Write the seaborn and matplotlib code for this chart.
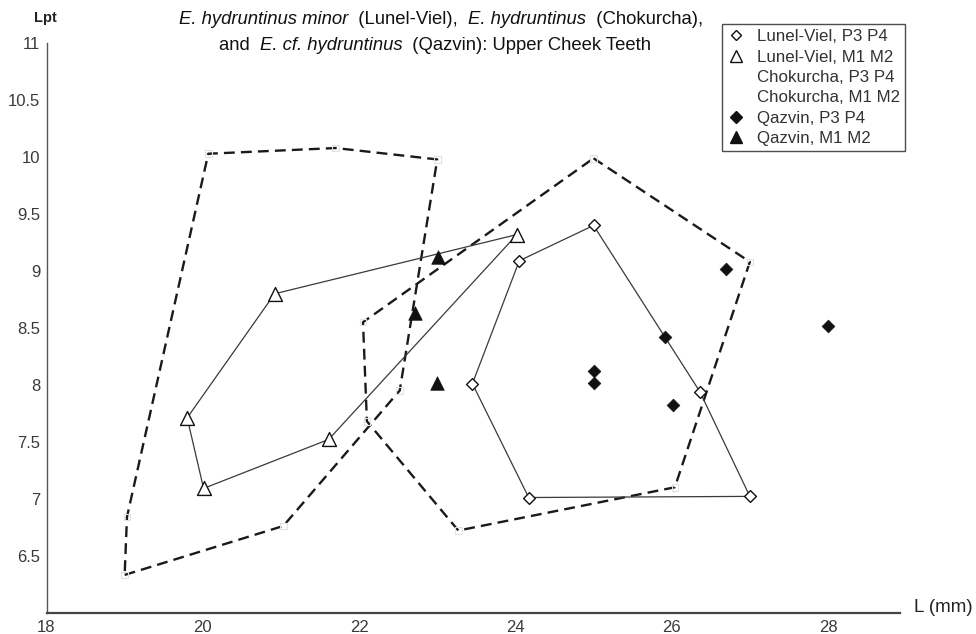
import matplotlib
matplotlib.use("Agg")
import matplotlib.pyplot as plt
from matplotlib.lines import Line2D
import seaborn as sns

# ---------------- data ----------------
lv_p34_L = [23.45, 24.05, 25.0, 26.36, 27.0, 24.17]
lv_p34_Lpt = [8.01, 9.09, 9.40, 7.94, 7.02, 7.01]

lv_m12_L = [19.8, 20.92, 24.02, 21.61, 20.01]
lv_m12_Lpt = [7.71, 8.80, 9.32, 7.52, 7.09]

ch_m12_L = [19.0, 21.03, 22.52, 23.0, 21.7, 20.07, 19.03]
ch_m12_Lpt = [6.33, 6.76, 7.95, 9.98, 10.08, 10.03, 6.84]

ch_p34_L = [25.0, 27.0, 26.04, 23.27, 22.1, 22.05]
ch_p34_Lpt = [9.99, 9.08, 7.10, 6.72, 7.68, 8.55]

qz_p34_L = [26.7, 25.91, 25.01, 25.01, 26.02, 28.0]
qz_p34_Lpt = [9.02, 8.42, 8.12, 8.02, 7.82, 8.52]

qz_m12_L = [23.01, 22.72, 23.0]
qz_m12_Lpt = [9.12, 8.63, 8.02]

legend_labels = ["Lunel-Viel, P3 P4", "Lunel-Viel, M1 M2", "Chokurcha, P3 P4",
                 "Chokurcha, M1 M2", "Qazvin, P3 P4", "Qazvin, M1 M2"]
x_ticks = [18, 20, 22, 24, 26, 28]
y_ticks = [6.5, 7, 7.5, 8, 8.5, 9, 9.5, 10, 10.5, 11]

# ---------------- figure ----------------
sns.set_theme(style="white")
plt.rcParams["font.family"] = ["Liberation Sans", "DejaVu Sans"]

W, H = 976, 634
fig = plt.figure(figsize=(W / 100, H / 100), dpi=100)
ax = fig.add_axes([46.5 / W, 1 - 612.5 / H, (900 - 46.5) / W, (612.5 - 43.3) / H])
ax.set_xlim(18, 18 + (900 - 46.5) / 78.15)
ax.set_ylim(6, 11)


def closed(xs, ys):
    return list(xs) + [xs[0]], list(ys) + [ys[0]]


# Chokurcha hulls (thick dashed)
for xs, ys in [(ch_m12_L, ch_m12_Lpt), (ch_p34_L, ch_p34_Lpt)]:
    cx, cy = closed(xs, ys)
    ax.plot(cx, cy, color="#1a1a1a", lw=1.7, linestyle=(0, (4.6, 2.6)), zorder=2)

# Lunel-Viel hulls (thin solid)
for xs, ys in [(lv_p34_L, lv_p34_Lpt), (lv_m12_L, lv_m12_Lpt)]:
    cx, cy = closed(xs, ys)
    ax.plot(cx, cy, color="#3a3a3a", lw=0.9, zorder=3)

faint = "#e2e2e2"
sns.scatterplot(x=ch_p34_L, y=ch_p34_Lpt, marker="s", s=22, facecolor="none",
                edgecolor=faint, linewidth=0.8, ax=ax, zorder=4)
sns.scatterplot(x=ch_m12_L, y=ch_m12_Lpt, marker="s", s=22, facecolor="none",
                edgecolor=faint, linewidth=0.8, ax=ax, zorder=4)
sns.scatterplot(x=lv_p34_L, y=lv_p34_Lpt, marker="D", s=36, facecolor="white",
                edgecolor="#111111", linewidth=1.0, ax=ax, zorder=5)
sns.scatterplot(x=lv_m12_L, y=lv_m12_Lpt, marker="^", s=100, facecolor="white",
                edgecolor="#111111", linewidth=1.0, ax=ax, zorder=5)
sns.scatterplot(x=qz_p34_L, y=qz_p34_Lpt, marker="D", s=42, color="#111111",
                edgecolor="#111111", linewidth=0.5, ax=ax, zorder=6)
sns.scatterplot(x=qz_m12_L, y=qz_m12_Lpt, marker="^", s=95, color="#111111",
                edgecolor="#111111", linewidth=0.5, ax=ax, zorder=6)

# axes styling
for side in ["top", "right"]:
    ax.spines[side].set_visible(False)
ax.spines["left"].set_color("#555555")
ax.spines["bottom"].set_color("#444444")
ax.spines["left"].set_linewidth(1.0)
ax.spines["bottom"].set_linewidth(1.6)
ax.set_xticks(x_ticks)
ax.set_xticklabels([str(t) for t in x_ticks])
ax.set_yticks(y_ticks)
ax.set_yticklabels([f"{t:g}" for t in y_ticks])
ax.tick_params(axis="both", direction="inout", length=7, width=1.0, color="#555555",
               labelsize=12, labelcolor="#3a3a3a", pad=1)
ax.tick_params(axis="x", pad=2)
ax.set_xlabel("")
ax.set_ylabel("")
ax.grid(False)
ax.set_facecolor("white")

# axis labels
fig.text(45 / W, 1 - 18 / H, "Lpt", fontsize=10.5, fontweight="bold",
         ha="center", va="center", color="#222222")
fig.text(914 / W, 1 - 608 / H, "L (mm)", fontsize=13.5, ha="left", va="center",
         color="#222222")

# legend
handles = [
    Line2D([], [], marker="D", ls="none", ms=5.5, mfc="white", mec="#111111", mew=1.0),
    Line2D([], [], marker="^", ls="none", ms=9, mfc="white", mec="#111111", mew=1.0),
    Line2D([], [], marker="s", ls="none", ms=4.5, mfc="none", mec="white", mew=0.8),
    Line2D([], [], marker="s", ls="none", ms=4.5, mfc="none", mec="white", mew=0.8),
    Line2D([], [], marker="D", ls="none", ms=6.5, mfc="#111111", mec="#111111"),
    Line2D([], [], marker="^", ls="none", ms=9, mfc="#111111", mec="#111111"),
]
leg = ax.legend(handles, legend_labels, loc="upper right",
                bbox_to_anchor=(905 / W, 1 - 24 / H), bbox_transform=fig.transFigure,
                frameon=True, fancybox=False, shadow=False, fontsize=12.2,
                labelspacing=0.32, handlelength=1.0, handletextpad=0.75,
                borderpad=0.3, borderaxespad=0.0, labelcolor="#333333")
leg.get_frame().set_edgecolor("#222222")
leg.get_frame().set_linewidth(1.0)
leg.set_zorder(10)

# title with mixed italic pieces
line1 = [("E. hydruntinus minor", "italic"), ("  (Lunel-Viel),  ", "normal"),
         ("E. hydruntinus", "italic"), ("  (Chokurcha),", "normal")]
line2 = [("and  ", "normal"), ("E. cf. hydruntinus", "italic"),
         ("  (Qazvin): Upper Cheek Teeth", "normal")]

renderer = fig.canvas.get_renderer()


def rich_line(pieces, cx_px, cy_px, size):
    texts, widths = [], []
    for s, st in pieces:
        t = fig.text(0, 0, s, fontsize=size, style=st, ha="left", va="center",
                     color="#111111", fontweight="normal")
        widths.append(t.get_window_extent(renderer).width)
        texts.append(t)
    x = cx_px - sum(widths) / 2
    for t, w in zip(texts, widths):
        t.set_position((x / W, 1 - cy_px / H))
        x += w


rich_line(line1, 441, 20, 13.3)
rich_line(line2, 435, 46, 13.3)

fig.savefig("out.png", dpi=100, facecolor="white")
